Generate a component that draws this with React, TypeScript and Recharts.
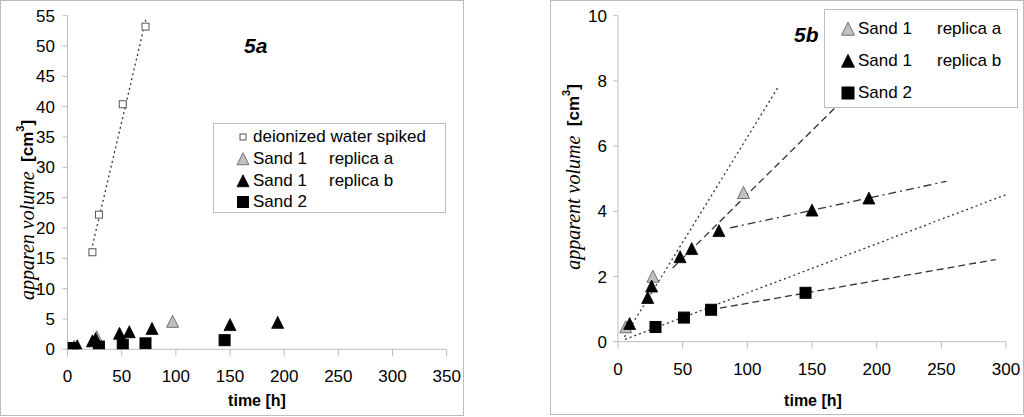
import { ComposedChart, Scatter, Line, XAxis, YAxis, Legend, Label } from "recharts";

// values: time [h] vs apparent volume [cm3]
const waterTime = [23, 29, 51, 72];
const waterVolume = [16.0, 22.2, 40.4, 53.2];

const sand1aTime = [6, 27, 97];
const sand1aVolume = [0.45, 2.0, 4.57];

const sand1bTime = [9, 23, 26, 48, 57, 78, 150, 194];
const sand1bVolume = [0.55, 1.35, 1.7, 2.6, 2.85, 3.4, 4.03, 4.4];

const sand2Time = [29, 51, 72, 145];
const sand2Volume = [0.45, 0.74, 0.98, 1.5];
// early Sand 2 reading, only plotted in 5a
const sand2EarlyTime = [5];
const sand2EarlyVolume = [0.3];

// trend lines, start and end
const waterFitTime = [22, 72.5];
const waterFitVolume = [16.3, 54.5];
const sand1EarlyFitTime = [5, 124.5];
const sand1EarlyFitVolume = [0.15, 7.85];
const sand1aFitTime = [42.3, 169];
const sand1aFitVolume = [2.26, 7.22];
const sand1bFitTime = [86.6, 254];
const sand1bFitVolume = [3.49, 4.92];
const sand2DottedFitTime = [5.4, 300];
const sand2DottedFitVolume = [0.07, 4.51];
const sand2DashedFitTime = [78.8, 292];
const sand2DashedFitVolume = [1.03, 2.52];

const timeTicksA = [0, 50, 100, 150, 200, 250, 300, 350];
const volumeTicksA = [0, 5, 10, 15, 20, 25, 30, 35, 40, 45, 50, 55];
const timeTicksB = [0, 50, 100, 150, 200, 250, 300];
const volumeTicksB = [0, 2, 4, 6, 8, 10];

const legendA = ["deionized water spiked", "Sand 1", "Sand 1", "Sand 2"];
const legendReplica = ["replica a", "replica b"];

const SANS = "'Liberation Sans', Arial, sans-serif";
const SERIF = "'Liberation Serif', 'Times New Roman', serif";
const AXIS = "#bdbdbd";
const FRAME = "#bcbcbc";

const zip = (xs: number[], ys: number[]) => xs.map((x, i) => ({ x, y: ys[i] }));

const Tri = ({ cx, cy, size, fill, stroke }: any) => (
  <path
    d={`M${cx},${cy - size * 0.52}L${cx + size / 2},${cy + size * 0.48}L${cx - size / 2},${cy + size * 0.48}Z`}
    fill={fill}
    stroke={stroke}
    strokeWidth={0.8}
  />
);

const Sq = ({ cx, cy, size, fill, stroke }: any) => (
  <rect x={cx - size / 2} y={cy - size / 2} width={size} height={size} fill={fill} stroke={stroke} strokeWidth={1} />
);

const grayTri = (s: number) => (p: any) => <Tri cx={p.cx} cy={p.cy} size={s} fill="#c0c0c0" stroke="#555" />;
const blackTri = (s: number) => (p: any) => <Tri cx={p.cx} cy={p.cy} size={s} fill="#000" stroke="#000" />;
const blackSq = (s: number) => (p: any) => <Sq cx={p.cx} cy={p.cy} size={s} fill="#000" stroke="#000" />;
const openSq = (s: number) => (p: any) => <Sq cx={p.cx} cy={p.cy} size={s} fill="#fff" stroke="#555" />;

const Marker = ({ kind, size }: { kind: string; size: number }) => (
  <svg width={16} height={16} style={{ display: "block" }}>
    {kind === "open" && <Sq cx={8} cy={8} size={size} fill="#fff" stroke="#555" />}
    {kind === "gray" && <Tri cx={8} cy={8} size={size} fill="#c0c0c0" stroke="#555" />}
    {kind === "tri" && <Tri cx={8} cy={8} size={size} fill="#000" stroke="#000" />}
    {kind === "sq" && <Sq cx={8} cy={8} size={size} fill="#000" stroke="#000" />}
  </svg>
);

const LegendBox = ({ rows, markerX, textX, replicaX }: any) => (
  <div
    style={{
      position: "relative",
      width: "100%",
      height: "100%",
      boxSizing: "border-box",
      border: `1px solid ${FRAME}`,
      background: "#fff",
      fontFamily: SANS,
      fontSize: 17,
      color: "#000",
    }}
  >
    {rows.map((r: any, i: number) => (
      <div key={i}>
        <div style={{ position: "absolute", left: markerX - 8, top: r.cy - 8 }}>
          <Marker kind={r.kind} size={r.size} />
        </div>
        <div style={{ position: "absolute", left: textX, top: r.cy - 10, lineHeight: "20px", whiteSpace: "nowrap" }}>
          {r.label}
        </div>
        {r.replica && (
          <div style={{ position: "absolute", left: replicaX, top: r.cy - 10, lineHeight: "20px", whiteSpace: "nowrap" }}>
            {r.replica}
          </div>
        )}
      </div>
    ))}
  </div>
);

const XTitle = ({ x, y }: { x: number; y: number }) => (
  <text x={x} y={y} textAnchor="middle" fontFamily={SANS} fontWeight="bold" fontSize={16} fill="#000">
    time [h]
  </text>
);

const YTitle = ({ x, y, text }: { x: number; y: number; text: string }) => (
  <text
    x={x}
    y={y}
    transform={`rotate(-90 ${x} ${y})`}
    textAnchor="middle"
    dominantBaseline="central"
    fill="#000"
  >
    <tspan fontFamily={SERIF} fontStyle="italic" fontSize={20}>
      {text}
    </tspan>
    <tspan fontFamily={SANS} fontWeight="bold" fontSize={17}>
      {"\u00a0 [cm"}
    </tspan>
    <tspan fontFamily={SANS} fontWeight="bold" fontSize={11} dy={-7}>
      3
    </tspan>
    <tspan fontFamily={SANS} fontWeight="bold" fontSize={17} dy={7}>
      ]
    </tspan>
  </text>
);

const tickStyle = { fill: "#000", fontSize: 17, fontFamily: SANS };

const Panel5a = () => (
  <ComposedChart width={464} height={416} margin={{ top: 15.7, right: 17.3, bottom: 6.7, left: 7.5 }}>
    <XAxis
      type="number"
      dataKey="x"
      domain={[0, 350]}
      ticks={timeTicksA}
      interval={0}
      height={60}
      tick={tickStyle}
      tickSize={7}
      tickMargin={14}
      axisLine={{ stroke: AXIS }}
      tickLine={{ stroke: AXIS }}
      allowDataOverflow
    >
      <Label content={() => <XTitle x={257} y={406} />} />
    </XAxis>
    <YAxis
      type="number"
      dataKey="y"
      domain={[0, 55]}
      ticks={volumeTicksA}
      interval={0}
      width={60}
      tick={tickStyle}
      tickSize={5}
      tickMargin={7.5}
      axisLine={{ stroke: AXIS }}
      tickLine={{ stroke: AXIS }}
      allowDataOverflow
    >
      <Label content={() => <YTitle x={27} y={210} text="apparen volume" />} />
    </YAxis>
    <Line
      data={zip(waterFitTime, waterFitVolume)}
      dataKey="y"
      stroke="#333"
      strokeWidth={1.3}
      strokeDasharray="2 3"
      dot={false}
      activeDot={false}
      legendType="none"
      isAnimationActive={false}
    />
    <Scatter data={zip(waterTime, waterVolume)} shape={openSq(7)} legendType="none" isAnimationActive={false} />
    <Scatter data={zip(sand1aTime, sand1aVolume)} shape={grayTri(12)} legendType="none" isAnimationActive={false} />
    <Scatter data={zip(sand2EarlyTime, sand2EarlyVolume)} shape={blackSq(10)} legendType="none" isAnimationActive={false} />
    <Scatter data={zip(sand1bTime, sand1bVolume)} shape={blackTri(12)} legendType="none" isAnimationActive={false} />
    <Scatter data={zip(sand2Time, sand2Volume)} shape={blackSq(11)} legendType="none" isAnimationActive={false} />
    <Legend
      layout="vertical"
      align="center"
      verticalAlign="middle"
      wrapperStyle={{ left: 213, top: 123, width: 233, height: 90 }}
      content={() => (
        <LegendBox
          markerX={29}
          textX={39}
          replicaX={115}
          rows={[
            { kind: "open", size: 6, cy: 13, label: legendA[0] },
            { kind: "gray", size: 12, cy: 35, label: legendA[1], replica: legendReplica[0] },
            { kind: "tri", size: 12, cy: 57, label: legendA[2], replica: legendReplica[1] },
            { kind: "sq", size: 11, cy: 78, label: legendA[3] },
          ]}
        />
      )}
    />
  </ComposedChart>
);

const Panel5b = () => (
  <ComposedChart width={474} height={416} margin={{ top: 15.7, right: 18, bottom: 14.3, left: 8 }}>
    <XAxis
      type="number"
      dataKey="x"
      domain={[0, 300]}
      ticks={timeTicksB}
      interval={0}
      height={60}
      tick={tickStyle}
      tickSize={7}
      tickMargin={14}
      axisLine={{ stroke: AXIS }}
      tickLine={{ stroke: AXIS }}
      allowDataOverflow
    >
      <Label content={() => <XTitle x={263} y={406} />} />
    </XAxis>
    <YAxis
      type="number"
      dataKey="y"
      domain={[0, 10]}
      ticks={volumeTicksB}
      interval={0}
      width={60}
      tick={tickStyle}
      tickSize={5}
      tickMargin={6}
      axisLine={{ stroke: AXIS }}
      tickLine={{ stroke: AXIS }}
      allowDataOverflow
    >
      <Label content={() => <YTitle x={23} y={177} text="apparent volume" />} />
    </YAxis>
    <Line data={zip(sand1EarlyFitTime, sand1EarlyFitVolume)} dataKey="y" stroke="#333" strokeWidth={1.3}
      strokeDasharray="2 3" dot={false} activeDot={false} legendType="none" isAnimationActive={false} />
    <Line data={zip(sand1aFitTime, sand1aFitVolume)} dataKey="y" stroke="#333" strokeWidth={1.3}
      strokeDasharray="7 4" dot={false} activeDot={false} legendType="none" isAnimationActive={false} />
    <Line data={zip(sand1bFitTime, sand1bFitVolume)} dataKey="y" stroke="#333" strokeWidth={1.3}
      strokeDasharray="8 4 2 4" dot={false} activeDot={false} legendType="none" isAnimationActive={false} />
    <Line data={zip(sand2DottedFitTime, sand2DottedFitVolume)} dataKey="y" stroke="#333" strokeWidth={1.3}
      strokeDasharray="2 3" dot={false} activeDot={false} legendType="none" isAnimationActive={false} />
    <Line data={zip(sand2DashedFitTime, sand2DashedFitVolume)} dataKey="y" stroke="#333" strokeWidth={1.3}
      strokeDasharray="7 4" dot={false} activeDot={false} legendType="none" isAnimationActive={false} />
    <Scatter data={zip(sand1aTime, sand1aVolume)} shape={grayTri(12)} legendType="none" isAnimationActive={false} />
    <Scatter data={zip(sand1bTime, sand1bVolume)} shape={blackTri(12)} legendType="none" isAnimationActive={false} />
    <Scatter data={zip(sand2Time, sand2Volume)} shape={blackSq(11)} legendType="none" isAnimationActive={false} />
    <Legend
      layout="vertical"
      align="center"
      verticalAlign="middle"
      wrapperStyle={{ left: 274, top: 9, width: 194, height: 99 }}
      content={() => (
        <LegendBox
          markerX={23}
          textX={33}
          replicaX={112}
          rows={[
            { kind: "gray", size: 13, cy: 19, label: legendA[1], replica: legendReplica[0] },
            { kind: "tri", size: 13, cy: 51, label: legendA[2], replica: legendReplica[1] },
            { kind: "sq", size: 12, cy: 83, label: legendA[3] },
          ]}
        />
      )}
    />
  </ComposedChart>
);

const panelTag = (left: number, top: number, text: string) => (
  <div
    style={{
      position: "absolute",
      left,
      top,
      fontFamily: SANS,
      fontWeight: "bold",
      fontStyle: "italic",
      fontSize: 21,
      lineHeight: "21px",
      color: "#000",
    }}
  >
    {text}
  </div>
);

export default function App() {
  return (
    <div style={{ position: "absolute", left: 0, top: 0, width: 1024, height: 417, background: "#fff", overflow: "hidden" }}>
      <div style={{ position: "absolute", left: 0, top: 0, width: 462, height: 414, border: `1px solid ${FRAME}` }} />
      <div style={{ position: "absolute", left: 550, top: 0, width: 472, height: 413, border: `1px solid ${FRAME}` }} />
      <div style={{ position: "absolute", left: 0, top: 0 }}>
        <Panel5a />
      </div>
      <div style={{ position: "absolute", left: 550, top: 0 }}>
        <Panel5b />
      </div>
      {panelTag(244, 35, "5a")}
      {panelTag(794, 24, "5b")}
    </div>
  );
}
